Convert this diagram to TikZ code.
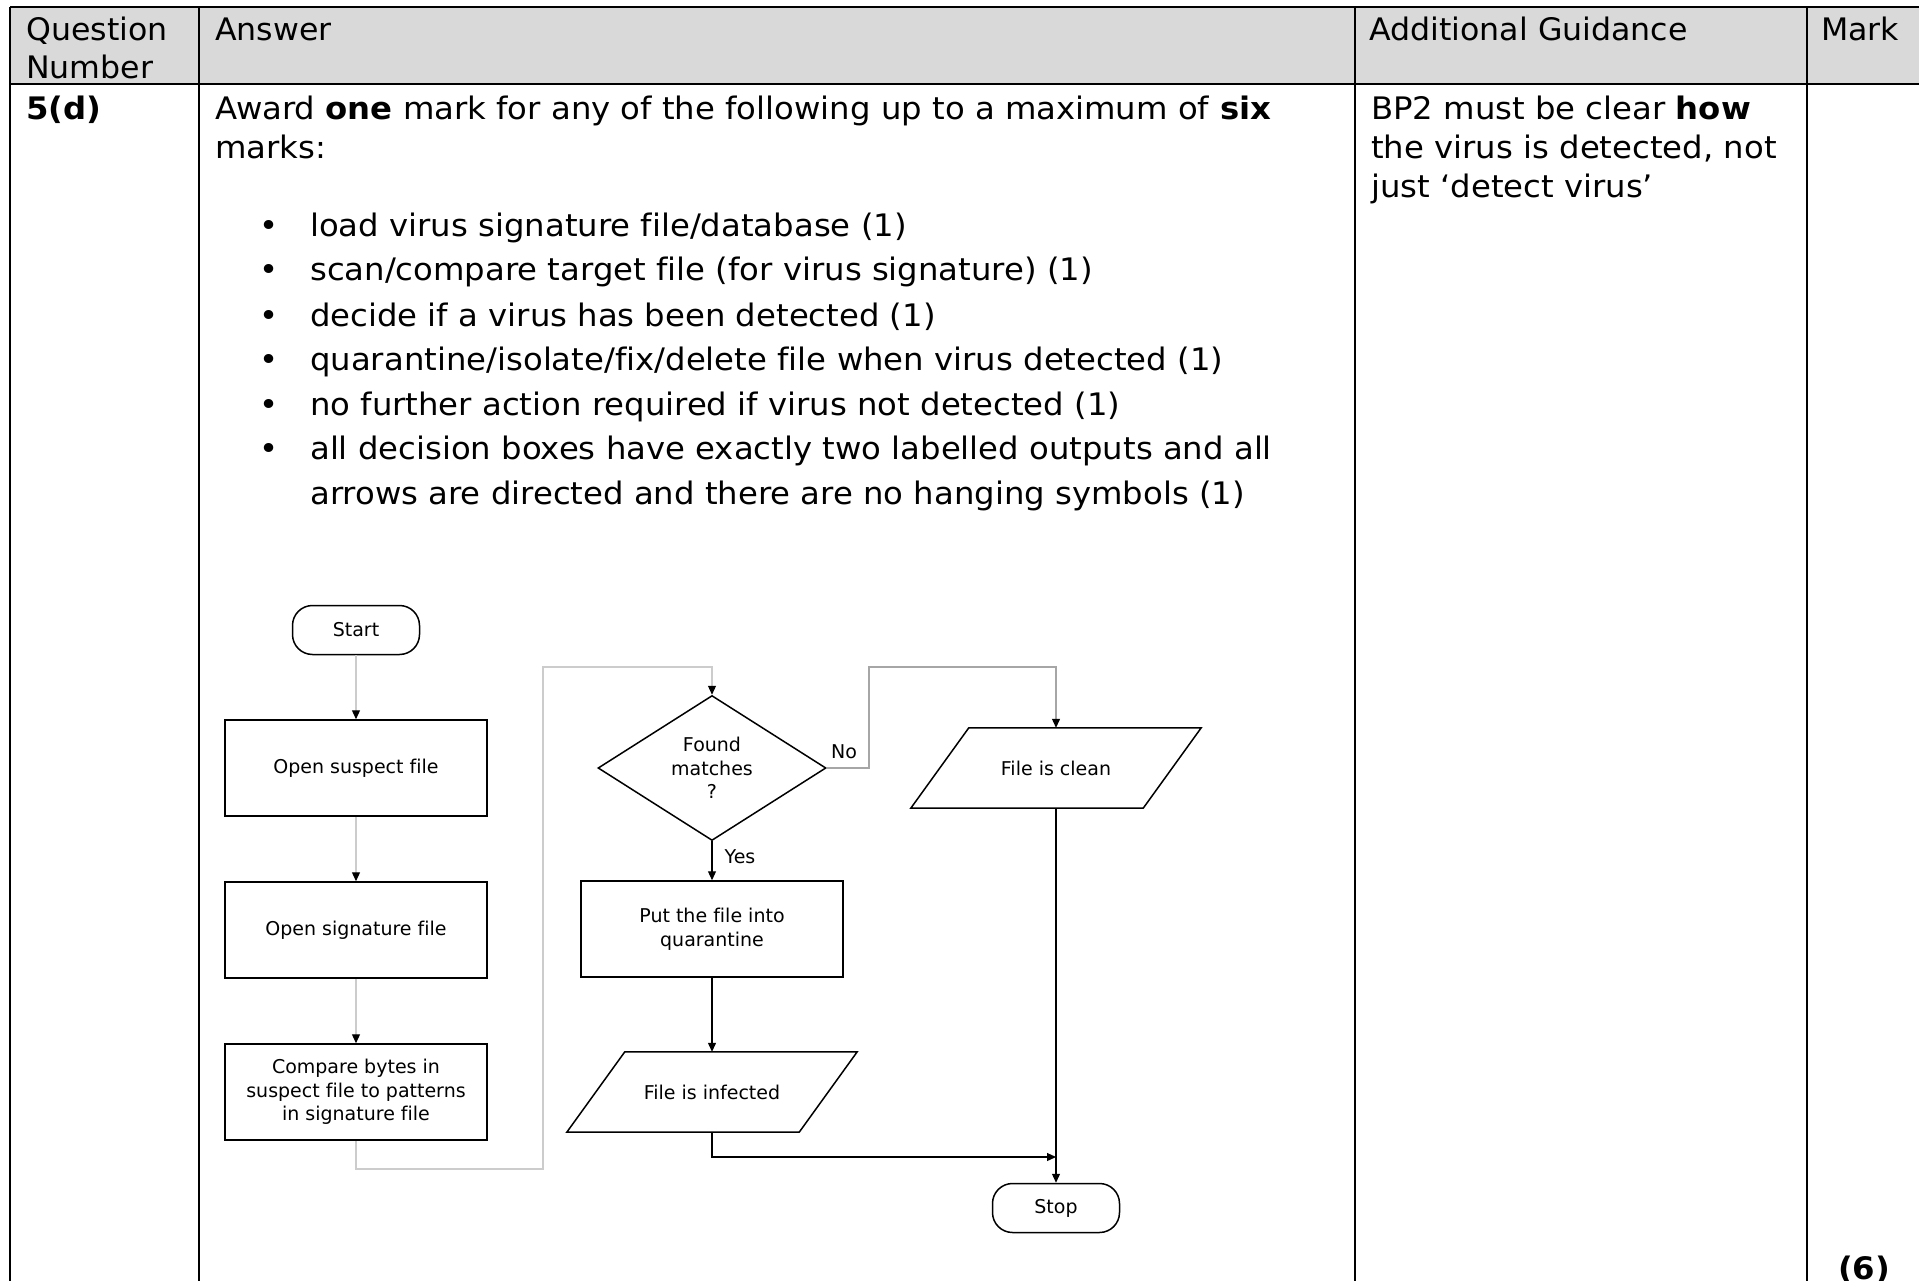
\documentclass[tikz,border=0pt]{standalone}
\usepackage{fontspec}
\setmainfont{DejaVu Sans}[Ligatures=NoCommon]
\newfontfamily\hdfont{DejaVu Sans}[Ligatures=NoCommon,FakeStretch=1.02]
\newfontfamily\bodyfont{DejaVu Sans}[Ligatures=NoCommon,FakeStretch=1.042]
\usetikzlibrary{positioning,arrows.meta,shapes.geometric,shapes.misc}

\begin{document}
\begin{tikzpicture}[x=1pt,y=-1pt,
    txt/.style={anchor=base west,inner sep=0pt,font=\bodyfont\fontsize{31}{39}\selectfont},
    head/.style={txt,font=\hdfont\fontsize{31}{39}\selectfont},
    chart/.style={font=\fontsize{19}{23.5}\selectfont},
    procbox/.style={chart,draw,line width=1.5pt,minimum width=262pt,minimum height=96pt,align=center},
    termbox/.style={chart,draw,line width=1.5pt,rounded corners=20pt,minimum width=127pt,minimum height=49pt},
    decbox/.style={chart,draw,line width=1.5pt,diamond,aspect=1.57,minimum width=228pt,minimum height=145pt,inner sep=0pt,align=center},
    iobox/.style={chart,minimum width=232pt,minimum height=80pt},
    ioline/.style={line width=1.5pt},
    lbl/.style={chart,inner sep=0pt},
    arrow/.style={-{Triangle[length=9pt,width=8pt,color=black]},line width=1.2pt},
    faint/.style={arrow,draw=gray!40},
    rule/.style={line width=2pt},
]
\useasboundingbox (0,0) rectangle (1919,1281);

% table frame
\fill[gray!30] (10,7) rectangle (1919,84);
\draw[rule] (10,7) -- (1919,7);
\draw[rule] (10,84) -- (1919,84);
\draw[rule] (10,7) -- (10,1281);
\draw[rule] (199,7) -- (199,1281);
\draw[rule] (1355,7) -- (1355,1281);
\draw[rule] (1807,7) -- (1807,1281);

% header row
\node[head] (qhead)  at (26,41)   {Question};
\node[head] (qhead2) at (26,79)   {Number};
\node[head] (ahead)  at (215,41)  {Answer};
\node[head] (ghead)  at (1369,41) {Additional Guidance};
\node[head] (mhead)  at (1821,41) {Mark};

% answer row
\node[txt] (qid)   at (26,120)  {\bfseries 5(d)};
\node[txt] (award) at (215,120) {Award \textbf{one} mark for any of the following up to a maximum of \textbf{six}};
\node[txt] (marks) at (215,159) {marks:};

\node[txt] (d1) at (259,237) {•};
\node[txt] (b1) at (310,237) {load virus signature file/database (1)};
\node[txt] (d2) at (259,281) {•};
\node[txt] (b2) at (310,281) {scan/compare target file (for virus signature) (1)};
\node[txt] (d3) at (259,326) {•};
\node[txt] (b3) at (310,326) {decide if a virus has been detected (1)};
\node[txt] (d4) at (259,370) {•};
\node[txt] (b4) at (310,370) {quarantine/isolate/fix/delete file when virus detected (1)};
\node[txt] (d5) at (259,415) {•};
\node[txt] (b5) at (310,415) {no further action required if virus not detected (1)};
\node[txt] (d6) at (259,459) {•};
\node[txt] (b6) at (310,459) {all decision boxes have exactly two labelled outputs and all};
\node[txt] (b7) at (310,504) {arrows are directed and there are no hanging symbols (1)};

\node[txt] (g1) at (1371,120) {BP2 must be clear \textbf{how}};
\node[txt] (g2) at (1371,159) {the virus is detected, not};
\node[txt] (g3) at (1371,198) {just ‘detect virus’};

\node[txt] (total) at (1838,1279) {\bfseries (6)};

% flowchart
\node[termbox] (start)   at (356,630)    {Start};
\node[procbox] (suspect) at (356,768)    {Open suspect file};
\node[procbox] (sig)     at (356,930)    {Open signature file};
\node[procbox] (cmp)     at (356,1092)   {Compare bytes in\\suspect file to patterns\\in signature file};
\node[decbox]  (dec)     at (712,768)    {Found\\matches\\?};
\node[procbox] (qua)     at (712,929)    {Put the file into\\quarantine};
\node[iobox]   (inf)     at (712,1092)   {File is infected};
\node[iobox]   (clean)   at (1056,768)   {File is clean};
\node[termbox] (stop)    at (1056,1208)  {Stop};

% parallelogram outlines
\draw[ioline] ([xshift=-29pt]inf.south west) -- ([xshift=-29pt]inf.south east)
  -- ([xshift=29pt]inf.north east) -- ([xshift=29pt]inf.north west) -- cycle;
\draw[ioline] ([xshift=-29pt]clean.south west) -- ([xshift=-29pt]clean.south east)
  -- ([xshift=29pt]clean.north east) -- ([xshift=29pt]clean.north west) -- cycle;

\coordinate (loopb) at (543,1169);
\coordinate (loopt) at (543,667);
\coordinate (nobend) at (869,667);
\coordinate (join) at (1056,1157);

\draw[faint] (start) -- (suspect);
\draw[faint] (suspect) -- (sig);
\draw[faint] (sig) -- (cmp);
\draw[faint] (cmp.south) |- (loopb) -- (loopt) -| (dec.north);

\draw[faint,draw=gray!70] (dec.east) -| (nobend) -| (clean.north);
\node[lbl] (nolbl) at (844,752) {No};

\draw[arrow] (dec) -- (qua);
\node[lbl] (yeslbl) at (740,857) {Yes};
\draw[arrow] (qua) -- (inf);
\draw[arrow] (inf.south) |- (join);
\draw[arrow] (clean) -- (stop);
\end{tikzpicture}
\end{document}
